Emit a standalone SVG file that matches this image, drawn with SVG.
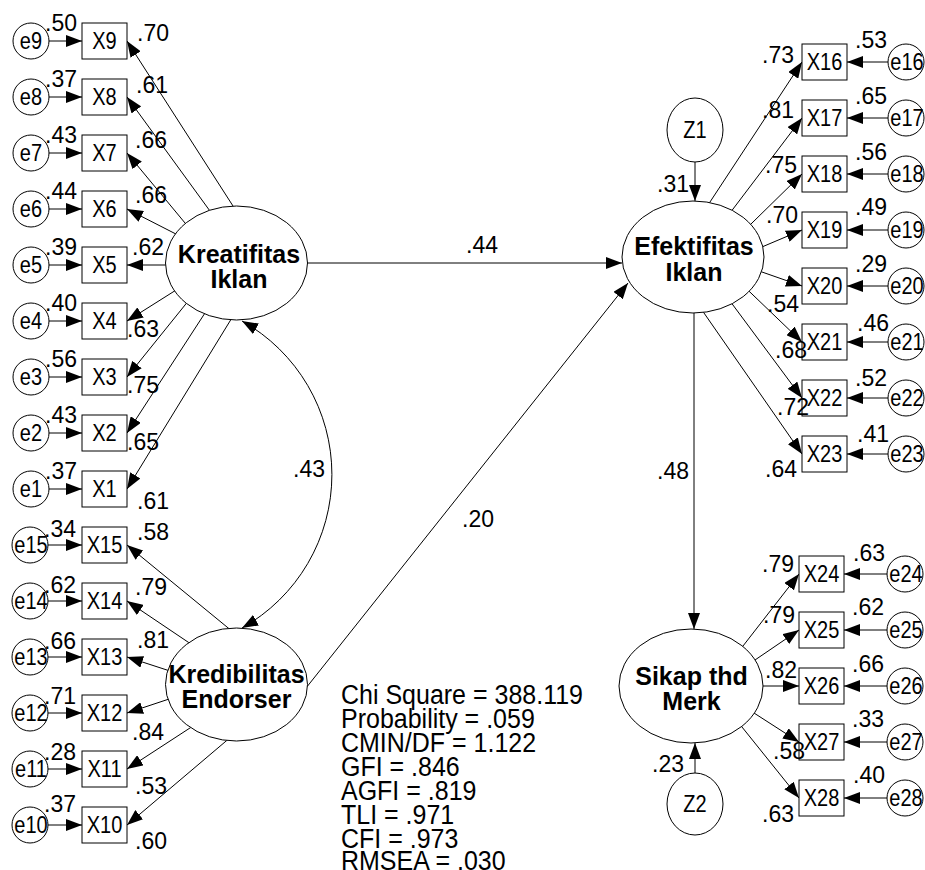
<svg xmlns="http://www.w3.org/2000/svg" width="925" height="870" viewBox="0 0 925 870">
<style>
.bx{fill:#fff;stroke:#000;stroke-width:1}
.el{fill:#fff;stroke:#000;stroke-width:1}
.c{fill:none;stroke:#000;stroke-width:1;marker-end:url(#ah)}
.cv{fill:none;stroke:#000;stroke-width:1;marker-start:url(#ah);marker-end:url(#ah)}
text{font-family:"Liberation Sans",Arial,sans-serif;fill:#000}
.t{font-size:20px;text-anchor:middle;transform-box:fill-box;transform-origin:center;transform:scaleY(1.18)}
.lb{font-size:23px}
.ln{font-size:25px;font-weight:bold;text-anchor:middle}
.st{font-size:25px;transform-box:fill-box;transform-origin:center;transform:scaleY(1.12)}
</style>
<defs>
<marker id="ah" markerUnits="userSpaceOnUse" markerWidth="16" markerHeight="12" refX="16" refY="6" orient="auto-start-reverse"><path d="M0,0 L16,6 L0,12 Z" fill="#000"/></marker>
</defs>
<g id="connectors">
<path class="c" d="M40,41 L82,41"/>
<path class="c" d="M40,97 L82,97"/>
<path class="c" d="M40,153 L82,153"/>
<path class="c" d="M40,209 L82,209"/>
<path class="c" d="M40,265 L82,265"/>
<path class="c" d="M40,321 L82,321"/>
<path class="c" d="M40,377 L82,377"/>
<path class="c" d="M40,433 L82,433"/>
<path class="c" d="M40,489 L82,489"/>
<path class="c" d="M40,545 L82,545"/>
<path class="c" d="M40,601 L82,601"/>
<path class="c" d="M40,657 L82,657"/>
<path class="c" d="M40,713 L82,713"/>
<path class="c" d="M40,769 L82,769"/>
<path class="c" d="M40,825 L82,825"/>
<path class="c" d="M915,62 L847,62"/>
<path class="c" d="M915,118 L847,118"/>
<path class="c" d="M915,174 L847,174"/>
<path class="c" d="M915,230 L847,230"/>
<path class="c" d="M915,286 L847,286"/>
<path class="c" d="M915,342 L847,342"/>
<path class="c" d="M915,398 L847,398"/>
<path class="c" d="M915,454 L847,454"/>
<path class="c" d="M914,574 L844,574"/>
<path class="c" d="M914,630 L844,630"/>
<path class="c" d="M914,686 L844,686"/>
<path class="c" d="M914,742 L844,742"/>
<path class="c" d="M914,798 L844,798"/>
<path class="c" d="M237.3,212.7 L127,41"/>
<path class="c" d="M214.7,217.5 L127,97"/>
<path class="c" d="M190,229 L127,153"/>
<path class="c" d="M179,235.6 L127,209"/>
<path class="c" d="M174,265 L127,265"/>
<path class="c" d="M179.8,287.7 L127,321"/>
<path class="c" d="M190,298.8 L127,377"/>
<path class="c" d="M207.4,309.3 L127,433"/>
<path class="c" d="M234.2,314.2 L127,489"/>
<path class="c" d="M233.2,632.1 L127,545"/>
<path class="c" d="M194.6,646.5 L127,601"/>
<path class="c" d="M174.6,672.5 L127,657"/>
<path class="c" d="M173.6,697.5 L127,713"/>
<path class="c" d="M196.7,723.6 L127,769"/>
<path class="c" d="M231.1,736.8 L127,825"/>
<path class="c" d="M705.6,208.7 L802,62"/>
<path class="c" d="M728.2,215.4 L802,118"/>
<path class="c" d="M746.3,228.6 L802,174"/>
<path class="c" d="M754.6,250.1 L802,230"/>
<path class="c" d="M754.5,269.4 L802,286"/>
<path class="c" d="M745.2,287.5 L802,342"/>
<path class="c" d="M728.2,298.6 L802,398"/>
<path class="c" d="M699.4,306.4 L802,454"/>
<path class="c" d="M738.1,652.3 L799,574"/>
<path class="c" d="M748.4,664.5 L799,630"/>
<path class="c" d="M755,686 L799,686"/>
<path class="c" d="M747.3,708.7 L799,742"/>
<path class="c" d="M737,720.8 L799,798"/>
<path class="c" d="M300,263 L622,263"/>
<path class="c" d="M301,694.3 L628,283"/>
<path class="c" d="M694,305 L694,629"/>
<path class="c" d="M695,162 L695,201"/>
<path class="c" d="M695,773 L695,743"/>
<path class="cv" d="M242,321 A176,176 0 0 1 242,628"/>
</g>
<g id="e-left">
<g id="e9"><circle class="el" cx="31" cy="41" r="18"/><text class="t" x="31" y="48">e9</text></g>
<g id="e8"><circle class="el" cx="31" cy="97" r="18"/><text class="t" x="31" y="104">e8</text></g>
<g id="e7"><circle class="el" cx="31" cy="153" r="18"/><text class="t" x="31" y="160">e7</text></g>
<g id="e6"><circle class="el" cx="31" cy="209" r="18"/><text class="t" x="31" y="216">e6</text></g>
<g id="e5"><circle class="el" cx="31" cy="265" r="18"/><text class="t" x="31" y="272">e5</text></g>
<g id="e4"><circle class="el" cx="31" cy="321" r="18"/><text class="t" x="31" y="328">e4</text></g>
<g id="e3"><circle class="el" cx="31" cy="377" r="18"/><text class="t" x="31" y="384">e3</text></g>
<g id="e2"><circle class="el" cx="31" cy="433" r="18"/><text class="t" x="31" y="440">e2</text></g>
<g id="e1"><circle class="el" cx="31" cy="489" r="18"/><text class="t" x="31" y="496">e1</text></g>
<g id="e15"><circle class="el" cx="30" cy="545" r="18"/><text class="t" x="31" y="552">e15</text></g>
<g id="e14"><circle class="el" cx="30" cy="601" r="18"/><text class="t" x="31" y="608">e14</text></g>
<g id="e13"><circle class="el" cx="30" cy="657" r="18"/><text class="t" x="31" y="664">e13</text></g>
<g id="e12"><circle class="el" cx="30" cy="713" r="18"/><text class="t" x="31" y="720">e12</text></g>
<g id="e11"><circle class="el" cx="30" cy="769" r="18"/><text class="t" x="31" y="776">e11</text></g>
<g id="e10"><circle class="el" cx="30" cy="825" r="18"/><text class="t" x="31" y="832">e10</text></g>
</g>
<g id="x-left">
<g id="X9"><rect class="bx" x="82" y="23" width="45" height="36"/><text class="t" x="104.5" y="48">X9</text></g>
<g id="X8"><rect class="bx" x="82" y="79" width="45" height="36"/><text class="t" x="104.5" y="104">X8</text></g>
<g id="X7"><rect class="bx" x="82" y="135" width="45" height="36"/><text class="t" x="104.5" y="160">X7</text></g>
<g id="X6"><rect class="bx" x="82" y="191" width="45" height="36"/><text class="t" x="104.5" y="216">X6</text></g>
<g id="X5"><rect class="bx" x="82" y="247" width="45" height="36"/><text class="t" x="104.5" y="272">X5</text></g>
<g id="X4"><rect class="bx" x="82" y="303" width="45" height="36"/><text class="t" x="104.5" y="328">X4</text></g>
<g id="X3"><rect class="bx" x="82" y="359" width="45" height="36"/><text class="t" x="104.5" y="384">X3</text></g>
<g id="X2"><rect class="bx" x="82" y="415" width="45" height="36"/><text class="t" x="104.5" y="440">X2</text></g>
<g id="X1"><rect class="bx" x="82" y="471" width="45" height="36"/><text class="t" x="104.5" y="496">X1</text></g>
<g id="X15"><rect class="bx" x="82" y="527" width="45" height="36"/><text class="t" x="104.5" y="552">X15</text></g>
<g id="X14"><rect class="bx" x="82" y="583" width="45" height="36"/><text class="t" x="104.5" y="608">X14</text></g>
<g id="X13"><rect class="bx" x="82" y="639" width="45" height="36"/><text class="t" x="104.5" y="664">X13</text></g>
<g id="X12"><rect class="bx" x="82" y="695" width="45" height="36"/><text class="t" x="104.5" y="720">X12</text></g>
<g id="X11"><rect class="bx" x="82" y="751" width="45" height="36"/><text class="t" x="104.5" y="776">X11</text></g>
<g id="X10"><rect class="bx" x="82" y="807" width="45" height="36"/><text class="t" x="104.5" y="832">X10</text></g>
</g>
<g id="x-right">
<g id="X16"><rect class="bx" x="802" y="44" width="45" height="36"/><text class="t" x="824.5" y="69">X16</text></g>
<g id="X17"><rect class="bx" x="802" y="100" width="45" height="36"/><text class="t" x="824.5" y="125">X17</text></g>
<g id="X18"><rect class="bx" x="802" y="156" width="45" height="36"/><text class="t" x="824.5" y="181">X18</text></g>
<g id="X19"><rect class="bx" x="802" y="212" width="45" height="36"/><text class="t" x="824.5" y="237">X19</text></g>
<g id="X20"><rect class="bx" x="802" y="268" width="45" height="36"/><text class="t" x="824.5" y="293">X20</text></g>
<g id="X21"><rect class="bx" x="802" y="324" width="45" height="36"/><text class="t" x="824.5" y="349">X21</text></g>
<g id="X22"><rect class="bx" x="802" y="380" width="45" height="36"/><text class="t" x="824.5" y="405">X22</text></g>
<g id="X23"><rect class="bx" x="802" y="436" width="45" height="36"/><text class="t" x="824.5" y="461">X23</text></g>
<g id="X24"><rect class="bx" x="799" y="556" width="45" height="36"/><text class="t" x="821.5" y="581">X24</text></g>
<g id="X25"><rect class="bx" x="799" y="612" width="45" height="36"/><text class="t" x="821.5" y="637">X25</text></g>
<g id="X26"><rect class="bx" x="799" y="668" width="45" height="36"/><text class="t" x="821.5" y="693">X26</text></g>
<g id="X27"><rect class="bx" x="799" y="724" width="45" height="36"/><text class="t" x="821.5" y="749">X27</text></g>
<g id="X28"><rect class="bx" x="799" y="780" width="45" height="36"/><text class="t" x="821.5" y="805">X28</text></g>
</g>
<g id="e-right">
<g id="e16"><circle class="el" cx="906" cy="62" r="18"/><text class="t" x="907" y="69">e16</text></g>
<g id="e17"><circle class="el" cx="906" cy="118" r="18"/><text class="t" x="907" y="125">e17</text></g>
<g id="e18"><circle class="el" cx="906" cy="174" r="18"/><text class="t" x="907" y="181">e18</text></g>
<g id="e19"><circle class="el" cx="906" cy="230" r="18"/><text class="t" x="907" y="237">e19</text></g>
<g id="e20"><circle class="el" cx="906" cy="286" r="18"/><text class="t" x="907" y="293">e20</text></g>
<g id="e21"><circle class="el" cx="906" cy="342" r="18"/><text class="t" x="907" y="349">e21</text></g>
<g id="e22"><circle class="el" cx="906" cy="398" r="18"/><text class="t" x="907" y="405">e22</text></g>
<g id="e23"><circle class="el" cx="906" cy="454" r="18"/><text class="t" x="907" y="461">e23</text></g>
<g id="e24"><circle class="el" cx="905" cy="574" r="18"/><text class="t" x="906" y="581">e24</text></g>
<g id="e25"><circle class="el" cx="905" cy="630" r="18"/><text class="t" x="906" y="637">e25</text></g>
<g id="e26"><circle class="el" cx="905" cy="686" r="18"/><text class="t" x="906" y="693">e26</text></g>
<g id="e27"><circle class="el" cx="905" cy="742" r="18"/><text class="t" x="906" y="749">e27</text></g>
<g id="e28"><circle class="el" cx="905" cy="798" r="18"/><text class="t" x="906" y="805">e28</text></g>
</g>
<g id="Kreatifitas"><ellipse class="el" cx="236.5" cy="263" rx="71" ry="57"/><text class="ln" x="239" y="263">Kreatifitas</text><text class="ln" x="239" y="288">Iklan</text></g>
<g id="Kredibilitas"><ellipse class="el" cx="236.5" cy="684.5" rx="71" ry="56.5"/><text class="ln" x="236.5" y="683">Kredibilitas</text><text class="ln" x="236.5" y="708">Endorser</text></g>
<g id="Efektifitas"><ellipse class="el" cx="693" cy="257" rx="71" ry="56"/><text class="ln" x="694" y="255">Efektifitas</text><text class="ln" x="694" y="281">Iklan</text></g>
<g id="Sikap"><ellipse class="el" cx="691" cy="686" rx="72" ry="57"/><text class="ln" x="691.5" y="685">Sikap thd</text><text class="ln" x="691.5" y="710">Merk</text></g>
<g id="Z1"><ellipse class="el" cx="695" cy="130" rx="28" ry="32"/><text class="t" x="695" y="137">Z1</text></g>
<g id="Z2"><ellipse class="el" cx="695" cy="804" rx="28" ry="31"/><text class="t" x="695" y="811">Z2</text></g>
<g id="labels">
<text class="lb" x="45" y="31">.50</text>
<text class="lb" x="45" y="87">.37</text>
<text class="lb" x="45" y="143">.43</text>
<text class="lb" x="45" y="199">.44</text>
<text class="lb" x="45" y="255">.39</text>
<text class="lb" x="45" y="311">.40</text>
<text class="lb" x="45" y="367">.56</text>
<text class="lb" x="45" y="423">.43</text>
<text class="lb" x="45" y="479">.37</text>
<text class="lb" x="44" y="537">.34</text>
<text class="lb" x="44" y="593">.62</text>
<text class="lb" x="44" y="649">.66</text>
<text class="lb" x="44" y="704">.71</text>
<text class="lb" x="44" y="760">.28</text>
<text class="lb" x="44" y="812">.37</text>
<text class="lb" x="855" y="48">.53</text>
<text class="lb" x="855" y="104">.65</text>
<text class="lb" x="855" y="160">.56</text>
<text class="lb" x="855" y="215">.49</text>
<text class="lb" x="855" y="272">.29</text>
<text class="lb" x="857" y="331">.46</text>
<text class="lb" x="855" y="386">.52</text>
<text class="lb" x="857" y="442">.41</text>
<text class="lb" x="853" y="561">.63</text>
<text class="lb" x="852" y="615">.62</text>
<text class="lb" x="852" y="672">.66</text>
<text class="lb" x="852" y="727">.33</text>
<text class="lb" x="853" y="783">.40</text>
<text class="lb" x="466" y="253">.44</text>
<text class="lb" x="462" y="527">.20</text>
<text class="lb" x="293" y="477">.43</text>
<text class="lb" x="657" y="192">.31</text>
<text class="lb" x="657" y="479">.48</text>
<text class="lb" x="652" y="772">.23</text>
<text class="lb" x="137" y="41">.70</text>
<text class="lb" x="136" y="93">.61</text>
<text class="lb" x="135" y="148">.66</text>
<text class="lb" x="135" y="203">.66</text>
<text class="lb" x="132" y="255">.62</text>
<text class="lb" x="127" y="337">.63</text>
<text class="lb" x="127" y="393">.75</text>
<text class="lb" x="127" y="450">.65</text>
<text class="lb" x="137" y="509">.61</text>
<text class="lb" x="137" y="540">.58</text>
<text class="lb" x="135" y="595">.79</text>
<text class="lb" x="137" y="648">.81</text>
<text class="lb" x="132" y="740">.84</text>
<text class="lb" x="135" y="794">.53</text>
<text class="lb" x="135" y="849">.60</text>
<text class="lb" x="762" y="63">.73</text>
<text class="lb" x="762" y="118">.81</text>
<text class="lb" x="765" y="173">.75</text>
<text class="lb" x="766" y="223">.70</text>
<text class="lb" x="767" y="312">.54</text>
<text class="lb" x="775" y="358">.68</text>
<text class="lb" x="777" y="415">.72</text>
<text class="lb" x="765" y="477">.64</text>
<text class="lb" x="762" y="572">.79</text>
<text class="lb" x="763" y="623">.79</text>
<text class="lb" x="765" y="678">.82</text>
<text class="lb" x="773" y="759">.58</text>
<text class="lb" x="762" y="822">.63</text>
</g>
<g id="fit-stats">
<text class="st" x="341" y="703">Chi Square = 388.119</text>
<text class="st" x="341" y="727">Probability = .059</text>
<text class="st" x="341" y="751">CMIN/DF = 1.122</text>
<text class="st" x="341" y="775">GFI = .846</text>
<text class="st" x="341" y="799">AGFI = .819</text>
<text class="st" x="341" y="823">TLI = .971</text>
<text class="st" x="341" y="847">CFI = .973</text>
<text class="st" x="341" y="869">RMSEA = .030</text>
</g>
</svg>
